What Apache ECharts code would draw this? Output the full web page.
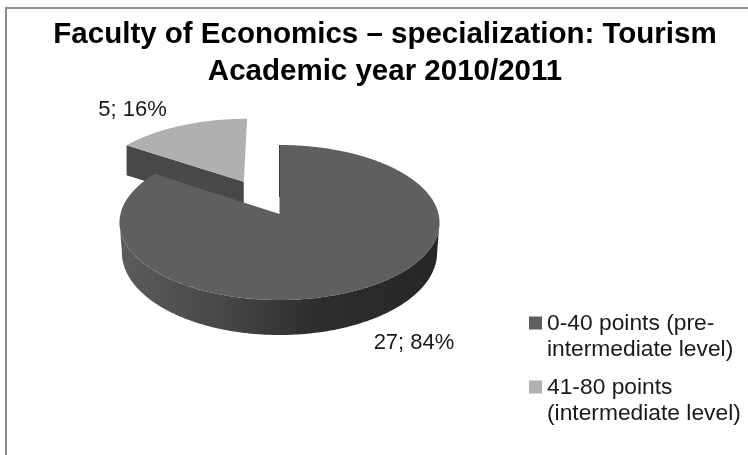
<!DOCTYPE html>
<html>
<head>
<meta charset="utf-8">
<style>html,body{margin:0;padding:0;background:#fff}#chart{width:748px;height:455px}</style>
<script src="https://cdn.jsdelivr.net/npm/echarts@6/dist/echarts.min.js"></script>
</head>
<body>
<div id="chart"></div>
<script>
// Students per placement-test band
const categories = ['0-40 points (pre-intermediate level)', '41-80 points (intermediate level)'];
const students = [27, 5];
const topColors = ['#5f5f5f', '#b0b0b0'];
const titleLines = ['Faculty of Economics – specialization: Tourism', 'Academic year 2010/2011'];

const total = students.reduce((a, b) => a + b, 0);
const FONT = '"Liberation Sans", Arial, sans-serif';

// Tilted disc: a perspective map of the unit circle onto a screen ellipse
const CX = 279.5, CY = 222.5, RX = 160, RY = 77.5, K = -0.11, DEPTH = 30, FRONT_EXTRA = 5, EXPLODE = 0.5;
const FOOT_SCALE = 0.985;

function project(u, v, drop, scale) {
  const w = 1 + K * v;
  const X = u * Math.sqrt(1 - K * K) / w;
  const Y = (v + K) / w;
  const lift = drop ? drop + FRONT_EXTRA * Math.max(0, Y) : 0;
  return [CX + RX * X * (drop ? scale || FOOT_SCALE : 1), CY + RY * Y + lift];
}
const rimPoint = (t, ox, oy, drop) => project(ox + Math.sin(t), oy - Math.cos(t), drop);

function arc(t0, t1, ox, oy, drop) {
  const n = Math.max(2, Math.ceil(Math.abs(t1 - t0) / 0.01));
  const pts = [];
  for (let i = 0; i <= n; i++) pts.push(rimPoint(t0 + (t1 - t0) * i / n, ox, oy, drop));
  return pts;
}

function sliceAngles(index) {
  let before = 0;
  for (let i = 0; i < index; i++) before += students[i];
  return [before / total * Math.PI * 2, (before + students[index]) / total * Math.PI * 2];
}

const poly = (points, fill, z2) => ({
  type: 'polygon', z2, shape: { points }, style: { fill, stroke: null }
});

const wallGradient = {
  type: 'linear', x: 0, y: 0, x2: 1, y2: 0,
  colorStops: [
    { offset: 0, color: '#5c5c5c' },
    { offset: 0.35, color: '#454545' },
    { offset: 0.6, color: '#2e2e2e' },
    { offset: 1, color: '#262626' }
  ]
};

const labelText = (i) => students[i] + '; ' + Math.round(students[i] / total * 100) + '%';
const labelStyle = (i, x, y) => ({
  type: 'text', z2: 20,
  style: { text: labelText(i), x, y, fill: '#1a1a1a', fontSize: 22, fontFamily: FONT, align: 'center', verticalAlign: 'middle' }
});

// The large slice stays in place; its curved wall runs along the front of the disc
function renderMain(params, api) {
  const [t0, t1] = sliceAngles(0);
  const frontA = 1.68, frontB = Math.min(t1, 4.61);
  const top = arc(frontA, frontB, 0, 0);
  const foot = arc(frontB, frontA, 0, 0, DEPTH);
  const apex = project(0, 0);
  return {
    type: 'group',
    children: [
      poly(top.concat(foot), wallGradient, 1),
      poly([apex].concat(arc(t0, t1, 0, 0)), topColors[0], 2),
      { type: 'line', z2: 3, shape: { x1: apex[0], y1: rimPoint(t0, 0, 0)[1], x2: apex[0], y2: apex[1] - 17 }, style: { stroke: '#3a3a3a', lineWidth: 1 } },
      labelStyle(0, 414, 343)
    ]
  };
}

// The small slice is pulled out along its bisector and shows one straight cut face
function renderSmall(params, api) {
  const [t0, t1] = sliceAngles(1);
  const mid = (t0 + t1) / 2;
  const ox = Math.sin(mid) * EXPLODE, oy = -Math.cos(mid) * EXPLODE;
  const apex = project(ox, oy);
  const rimLeft = rimPoint(t0, ox, oy);
  const apexFoot = project(ox, oy, DEPTH, 1);
  const rimFoot = project(ox + Math.sin(t0), oy - Math.cos(t0), DEPTH, 1);
  return {
    type: 'group',
    children: [
      poly([apex, rimLeft, rimFoot, apexFoot], '#484848', 1),
      poly([apex].concat(arc(t0, t1, ox, oy)), topColors[1], 2),
      labelStyle(1, 132.5, 110)
    ]
  };
}

const renderers = [renderMain, renderSmall];

const chart = echarts.init(document.getElementById('chart'), null, { renderer: 'canvas' });
chart.setOption({
  animation: false,
  backgroundColor: '#ffffff',
  color: topColors,
  title: {
    text: titleLines.join('\n'),
    left: 380, top: 11, textAlign: 'center',
    textStyle: { fontFamily: FONT, fontSize: 29.5, fontWeight: 'bold', color: '#000000', lineHeight: 37 }
  },
  legend: {
    orient: 'vertical', left: 529, top: 311, padding: 0,
    itemWidth: 13, itemHeight: 52, itemGap: 12,
    icon: 'path://M0 5.5H13V18.5H0Z M0 0L0 0Z M0 52L0 52Z',
    selectedMode: false,
    data: categories,
    formatter: (name) => name === categories[0]
      ? '0-40 points (pre-\nintermediate level)'
      : '41-80 points\n(intermediate level)',
    textStyle: { fontFamily: FONT, fontSize: 22.8, color: '#1a1a1a', lineHeight: 26 }
  },
  graphic: [{
    type: 'rect', silent: true, z: -1,
    shape: { x: 6, y: 8, width: 760, height: 470 },
    style: { fill: '#fff', stroke: '#8c8c8c', lineWidth: 2 }
  }],
  series: categories.map((name, i) => ({
    type: 'custom',
    name,
    coordinateSystem: 'none',
    z: 3 - i,
    silent: true,
    itemStyle: { color: topColors[i] },
    data: [[students[i]]],
    renderItem: renderers[i]
  }))
});
</script>
</body>
</html>
